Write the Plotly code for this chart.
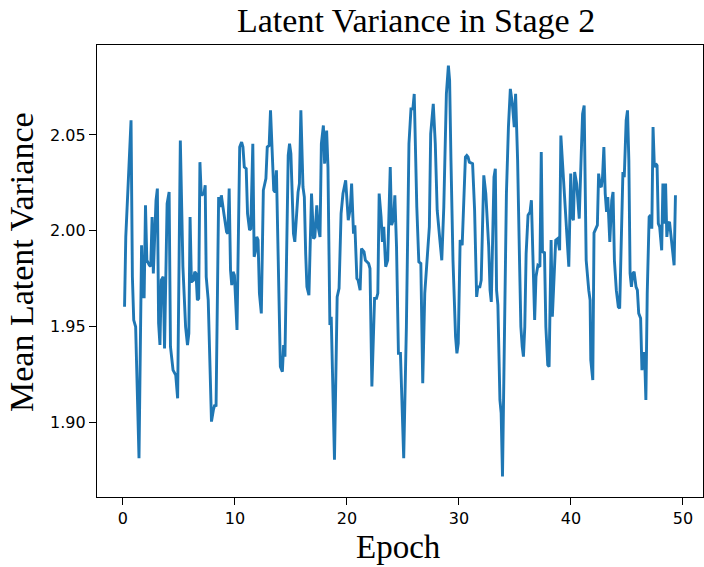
import plotly.graph_objects as go

epochs = [0.15, 0.26, 0.73, 0.85, 0.97, 1.14, 1.44, 1.67, 1.79, 1.90, 2.02, 2.14, 2.37, 2.49, 2.61, 2.72,
          2.96, 3.08, 3.19, 3.31, 3.43, 3.60, 3.72, 3.95, 4.13, 4.25, 4.48, 4.72, 4.89, 5.13, 5.36, 5.60,
          5.77, 5.89, 6.00, 6.12, 6.30, 6.42, 6.53, 6.65, 6.77, 6.88, 7.00, 7.24, 7.35,
          7.44, 7.62, 7.91, 8.08, 8.20, 8.32, 8.55, 8.67, 8.79, 9.02, 9.26, 9.37, 9.49, 9.61, 9.72, 9.84,
          9.96, 10.19, 10.43, 10.60, 10.72, 10.84, 11.01, 11.13, 11.31, 11.42, 11.60, 11.72, 11.83, 11.95,
          12.07, 12.19, 12.36, 12.54, 12.65, 12.77, 12.89, 13.06, 13.18, 13.47, 13.59, 13.71, 14.06, 14.24,
          14.35, 14.47, 14.76, 14.88, 15.00, 15.23, 15.35, 15.64, 15.76, 15.89,
          16.08, 16.20, 16.32, 16.43, 16.61, 16.84, 17.02, 17.14, 17.31, 17.43, 17.60, 17.72, 17.90, 18.01,
          18.19, 18.31, 18.48, 18.60, 18.89, 19.13, 19.30, 19.48, 19.65, 19.89, 20.12, 20.30, 20.42, 20.59,
          20.71, 20.89, 21.00, 21.18, 21.30, 21.53, 21.65, 21.76, 21.94, 22.06, 22.23, 22.47, 22.64, 22.76,
          22.88, 23.05, 23.17, 23.29, 23.46, 23.64, 23.87, 23.99, 24.17, 24.28,
          24.43, 24.60, 24.78, 25.07, 25.31, 25.54, 25.72, 25.89, 26.01, 26.24, 26.42, 26.60, 26.77, 26.95,
          27.18, 27.36, 27.48, 27.71, 27.89, 28.06, 28.30, 28.47, 28.65, 28.88, 29.06, 29.17, 29.29, 29.47,
          29.70, 29.82, 29.94, 30.11, 30.29, 30.40, 30.58, 30.70, 30.81, 30.93, 31.22, 31.40, 31.58, 31.69,
          31.87, 31.99, 32.22, 32.40,
          32.66, 32.78, 32.89, 33.13, 33.25, 33.36, 33.48, 33.66, 33.77, 33.89, 34.07, 34.24, 34.42, 34.59,
          34.77, 34.94, 35.06, 35.24, 35.41, 35.53, 35.65, 35.76, 35.88, 36.00, 36.17, 36.35, 36.47, 36.59,
          36.76, 36.88, 37.05, 37.23, 37.35, 37.46, 37.64, 37.76, 37.93, 38.05, 38.23, 38.34, 38.46, 38.64,
          38.81, 38.99, 39.10, 39.28, 39.46, 39.63, 39.81, 39.98, 40.10, 40.22, 40.33, 40.51, 40.74, 40.92,
          41.04,
          41.18, 41.30, 41.36, 41.59, 41.71, 41.77, 41.95, 42.06, 42.24, 42.36, 42.47, 42.59, 42.71, 42.82,
          42.94, 43.06, 43.18, 43.29, 43.47, 43.64, 43.76, 43.88, 44.05, 44.23, 44.35, 44.52, 44.64, 44.76,
          44.93, 45.05, 45.17, 45.28, 45.40, 45.52, 45.64, 45.81, 45.93, 46.05, 46.22, 46.34, 46.46, 46.57,
          46.69, 46.81, 46.98, 47.10, 47.22, 47.33, 47.45, 47.57, 47.69, 47.80, 47.92, 48.10, 48.21, 48.33,
          48.45, 48.56, 48.68, 48.80, 48.92, 49.09, 49.21, 49.33]

variance = [1.9603, 1.9968, 2.0576, 1.9760, 1.9534, 1.9499, 1.8813, 1.9924, 1.9655, 1.9655, 2.0133, 1.9846,
            1.9820, 1.9815, 2.0072, 1.9777, 2.0159, 2.0220, 1.9517, 1.9404, 1.9742, 1.9760, 1.9386, 2.0141,
            2.0202, 1.9395, 1.9273, 1.9247, 1.9126, 2.0471, 1.9812, 1.9499, 1.9404, 1.9464, 2.0072, 1.9734,
            1.9742, 1.9786, 1.9777, 1.9638, 1.9647, 2.0358, 2.0185, 2.0194, 2.0237,
            1.9760, 1.9638, 1.9004, 1.9065, 1.9091, 1.9083, 2.0176, 2.0124, 2.0185, 2.0089, 1.9994, 1.9985,
            2.0220, 1.9794, 1.9716, 1.9786, 1.9768, 1.9482, 2.0437, 2.0463, 2.0437, 2.0332, 2.0324, 2.0089,
            2.0003, 2.0011, 2.0454, 1.9864, 1.9890, 1.9968, 1.9951, 1.9673, 1.9569, 2.0211, 2.0237, 2.0272,
            2.0437, 2.0445, 2.0628, 2.0211, 2.0202, 2.0315, 1.9291, 1.9265, 1.9404, 1.9343, 2.0393, 2.0454,
            2.0402, 1.9985, 1.9942, 2.0202, 2.0246, 2.0628,
            2.0228, 2.0176, 1.9881, 1.9707, 1.9664, 2.0194, 1.9959, 1.9968, 2.0133, 2.0020, 1.9968, 2.0454,
            2.0549, 2.0350, 2.0523, 2.0332, 1.9508, 1.9551, 1.8805, 1.9655, 1.9699, 2.0089, 2.0194, 2.0263,
            2.0055, 2.0115, 2.0246, 1.9985, 2.0029, 1.9751, 1.9742, 1.9690, 1.9907, 1.9890, 1.9846, 1.9838,
            1.9829, 1.9803, 1.9187, 1.9647, 1.9647, 1.9673, 2.0194, 2.0072, 1.9942, 2.0020, 1.9812, 1.9846,
            2.0332, 2.0029, 2.0063, 2.0185,
            1.9916, 1.9360, 1.9360, 1.8813, 1.9499, 2.0454, 2.0636, 2.0636, 2.0714, 2.0124, 1.9838, 1.9829,
            1.9204, 1.9673, 1.9881, 2.0020, 2.0506, 2.0662, 2.0454, 2.0107, 1.9951, 1.9846, 2.0124, 2.0714,
            2.0862, 2.0784, 2.0367, 1.9846, 1.9447, 1.9360, 1.9412, 1.9951, 1.9924, 2.0107, 2.0385, 2.0393,
            2.0385, 2.0358, 2.0350, 2.0107, 1.9655, 1.9707, 1.9707, 1.9742, 2.0289, 2.0194,
            1.9916, 1.9690, 1.9629, 2.0280, 2.0324, 1.9690, 1.9612, 1.9117, 1.9048, 1.8718, 1.9499, 2.0194,
            2.0541, 2.0740, 2.0662, 2.0541, 2.0714, 2.0367, 1.9846, 1.9499, 1.9395, 1.9343, 1.9499, 1.9881,
            2.0081, 2.0098, 2.0159, 1.9846, 1.9534, 1.9760, 1.9820, 1.9812, 2.0411, 1.9890, 1.9885, 1.9499,
            1.9300, 1.9291, 1.9951, 1.9551, 1.9690, 1.9951, 1.9959, 1.9898, 2.0497, 2.0315, 2.0176, 1.9942,
            1.9812, 2.0298, 2.0072, 2.0055, 2.0306, 2.0246, 2.0063, 2.0402, 2.0610,
            2.0654, 2.0211, 1.9846, 1.9690, 1.9638, 1.9326, 1.9221, 1.9989, 2.0020, 2.0029, 2.0298, 2.0237,
            2.0228, 2.0280, 2.0437, 2.0194, 2.0098, 2.0176, 1.9942, 2.0159, 2.0202, 1.9846, 1.9690, 1.9603,
            1.9595, 2.0124, 2.0306, 2.0280, 2.0576, 2.0628, 2.0367, 1.9777, 1.9707, 1.9777, 1.9786, 1.9707,
            1.9690, 1.9569, 1.9543, 1.9273, 1.9360, 1.9360, 1.9117, 1.9673, 2.0072, 2.0081, 2.0011, 2.0541,
            2.0332, 2.0350, 2.0341, 2.0037, 2.0020, 1.9898, 2.0246, 2.0037, 2.0246, 1.9968, 2.0037, 2.0046,
            1.9977, 1.9864, 1.9820, 2.0185]

x_ticks = [0, 10, 20, 30, 40, 50]
y_ticks = [1.90, 1.95, 2.00, 2.05]
y_tick_labels = ["1.90", "1.95", "2.00", "2.05"]

title_text = "Latent Variance in Stage 2"
x_label = "Epoch"
y_label = "Mean Latent Variance"

xmin, xmax = min(epochs), max(epochs)
ymin, ymax = min(variance), max(variance)
xpad = 0.05 * (xmax - xmin)
ypad = 0.05 * (ymax - ymin)

fig = go.Figure()
fig.add_trace(go.Scatter(x=epochs, y=variance, mode="lines",
                         line=dict(color="#1f77b4", width=2.9), hoverinfo="x+y"))

serif = "Liberation Serif, Times New Roman, serif"
tickfont = dict(family="DejaVu Sans, sans-serif", size=16, color="black")

fig.update_layout(
    width=704, height=567,
    margin=dict(l=97, r=1, t=45, b=70),
    paper_bgcolor="white", plot_bgcolor="white",
    showlegend=False,
    xaxis=dict(range=[xmin - xpad, xmax + xpad], tickvals=x_ticks, ticks="outside", ticklen=7,
               tickwidth=1.2, tickcolor="black", showgrid=False, zeroline=False,
               showline=True, linecolor="black", linewidth=1.2, mirror=True, tickfont=tickfont),
    yaxis=dict(range=[ymin - ypad, ymax + ypad], tickvals=y_ticks, ticktext=y_tick_labels,
               ticks="outside", ticklen=7, tickwidth=1.2, tickcolor="black", showgrid=False,
               zeroline=False, showline=True, linecolor="black", linewidth=1.2, mirror=True,
               tickfont=tickfont),
    annotations=[
        dict(text=title_text, xref="paper", yref="paper", x=(416 - 97) / 606, y=1 + (45 - 20) / 452,
             xanchor="center", yanchor="middle", showarrow=False,
             font=dict(family=serif, size=34, color="black")),
        dict(text=x_label, xref="paper", yref="paper", x=(398 - 97) / 606, y=-(547 - 497) / 452,
             xanchor="center", yanchor="middle", showarrow=False,
             font=dict(family=serif, size=33, color="black")),
        dict(text=y_label, xref="paper", yref="paper", x=-(97 - 21) / 606, y=(497 - 262) / 452,
             xanchor="center", yanchor="middle", textangle=-90, showarrow=False,
             font=dict(family=serif, size=34, color="black")),
    ],
)

fig.write_html("out.html", config={"displayModeBar": False},
               post_script="document.body.style.margin='0';document.body.style.overflow='hidden';")
